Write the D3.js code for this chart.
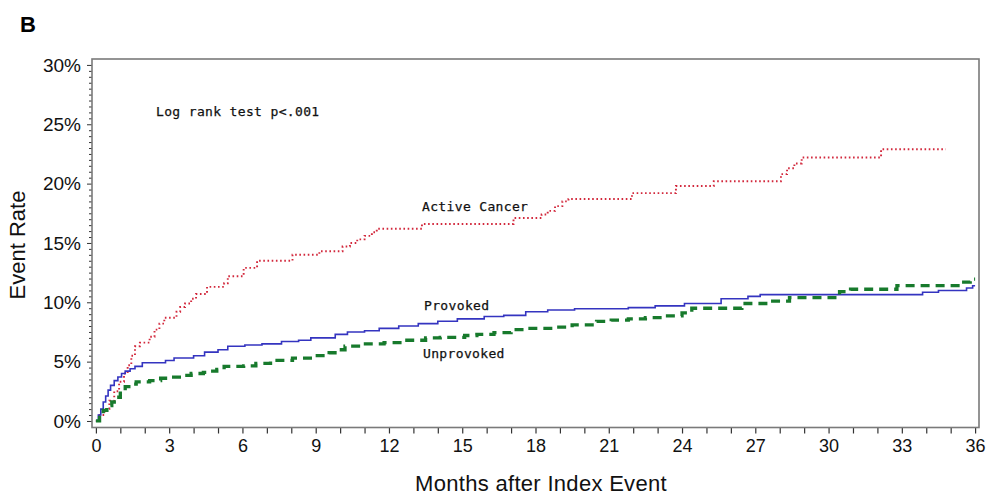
<!DOCTYPE html>
<html>
<head>
<meta charset="utf-8">
<script src="https://cdn.jsdelivr.net/npm/d3@7/dist/d3.min.js"></script>
<style>
  html, body { margin: 0; padding: 0; background: #fff; }
  svg { display: block; }
</style>
</head>
<body>
<svg id="chart" width="999" height="495"></svg>
<script>
// ---- Data (months after index event, cumulative event rate in %) ----
const cancerTimes = [0, 0.15, 0.35, 0.55, 0.75, 0.95, 1.15, 1.3, 1.45, 1.6, 1.8, 2.2, 2.4, 2.6, 2.8, 3.3, 3.45, 3.65, 3.9, 4.1, 4.55, 5.25, 5.4, 6.05, 6.6, 8.05, 9.15, 10.1, 10.4, 10.7, 11.0, 11.3, 11.5, 13.35, 17.1, 18.25, 18.5, 18.8, 19.1, 19.35, 21.95, 23.75, 25.3, 28.05, 28.3, 28.6, 28.9, 32.15, 34.8];
const cancerRates = [0, 0.5, 1.0, 1.7, 2.5, 3.3, 4.0, 4.7, 5.5, 6.3, 6.6, 7.1, 7.7, 8.2, 8.7, 9.2, 9.6, 9.9, 10.3, 10.7, 11.3, 11.6, 12.2, 12.9, 13.5, 14.0, 14.3, 14.7, 15.0, 15.3, 15.6, 15.9, 16.2, 16.6, 17.1, 17.4, 17.7, 18.1, 18.5, 18.7, 19.2, 19.8, 20.2, 20.8, 21.3, 21.7, 22.2, 22.9, 22.9];

const provokedTimes = [0, 0.1, 0.2, 0.3, 0.4, 0.5, 0.6, 0.75, 0.9, 1.05, 1.2, 1.4, 1.6, 1.9, 2.85, 3.2, 4.0, 4.45, 5.0, 5.4, 6.1, 6.8, 7.6, 8.3, 8.8, 9.8, 10.3, 11.0, 11.6, 12.4, 13.2, 14.0, 14.8, 15.9, 16.7, 17.6, 18.5, 19.6, 21.8, 22.9, 24.1, 25.6, 26.7, 27.2, 33.85, 34.5, 35.65, 35.9, 36.0];
const provokedRates = [0, 0.5, 1.0, 1.6, 2.1, 2.6, 3.0, 3.4, 3.7, 4.0, 4.2, 4.4, 4.6, 4.9, 5.1, 5.3, 5.5, 5.8, 6.0, 6.3, 6.4, 6.5, 6.7, 6.8, 7.0, 7.3, 7.5, 7.6, 7.8, 8.0, 8.2, 8.4, 8.6, 8.8, 8.9, 9.2, 9.35, 9.45, 9.55, 9.7, 9.9, 10.3, 10.5, 10.65, 10.85, 11.0, 11.2, 11.4, 11.4];

const unprovokedTimes = [0, 0.15, 0.3, 0.45, 0.65, 0.85, 1.0, 1.2, 1.45, 1.65, 2.2, 2.65, 3.1, 3.5, 3.9, 4.4, 4.65, 4.95, 5.25, 6.05, 6.55, 7.15, 8.05, 8.9, 9.55, 9.9, 10.2, 10.9, 11.8, 12.6, 13.5, 14.1, 15.1, 15.6, 16.3, 17.0, 17.7, 18.8, 19.5, 20.5, 21.1, 21.8, 22.5, 23.3, 24.0, 24.4, 26.45, 27.5, 28.4, 30.45, 30.9, 32.8, 35.3, 35.8, 36.0];
const unprovokedRates = [0, 0.5, 0.9, 1.3, 1.6, 2.0, 2.5, 2.9, 3.1, 3.3, 3.4, 3.6, 3.7, 3.85, 4.0, 4.1, 4.2, 4.35, 4.6, 4.65, 4.85, 5.1, 5.3, 5.5, 5.75, 6.0, 6.3, 6.5, 6.6, 6.8, 7.0, 7.05, 7.2, 7.3, 7.45, 7.7, 7.8, 7.9, 8.1, 8.4, 8.5, 8.6, 8.7, 8.85, 9.1, 9.5, 9.9, 10.1, 10.4, 10.9, 11.1, 11.4, 11.7, 11.95, 11.95];

const xTickValues = d3.range(0, 37, 1);          // a tick every month
const xLabelValues = [0, 3, 6, 9, 12, 15, 18, 21, 24, 27, 30, 33, 36];
const yTickValues = d3.range(0, 30.01, 0.5);     // a tick every 0.5 %
const yLabelValues = [0, 5, 10, 15, 20, 25, 30];

const seriesNames = ["Active Cancer", "Provoked", "Unprovoked"];
const annotationText = "Log rank test p<.001";
const panelLabel = "B";
const xTitle = "Months after Index Event";
const yTitle = "Event Rate";

// ---- Layout ----
const svg = d3.select("#chart");
const frame = { left: 92, right: 979, top: 59, bottom: 427.5 };

const x = d3.scaleLinear().domain([-0.16, 36.16]).range([frame.left, frame.right]);
const y = d3.scaleLinear().domain([-0.55, 30.5]).range([frame.bottom, frame.top]);

const tickFont = "'Liberation Sans', Arial, sans-serif";
const monoFont = "'DejaVu Sans Mono', monospace";

// Panel label
svg.append("text").attr("x", 20).attr("y", 32)
  .attr("font-family", tickFont).attr("font-weight", "bold").attr("font-size", 22)
  .attr("fill", "#000").text(panelLabel);

// X axis
const xAxis = d3.axisBottom(x).tickValues(xTickValues).tickSize(6).tickSizeOuter(0)
  .tickFormat(d => xLabelValues.includes(d) ? String(d) : "");
const gx = svg.append("g").attr("transform", `translate(0,${frame.bottom})`).call(xAxis);
gx.select(".domain").remove();
gx.selectAll(".tick line").attr("stroke", "#333").attr("stroke-width", 1.2);
gx.selectAll(".tick text").attr("font-family", tickFont).attr("font-size", 18)
  .attr("fill", "#111").attr("y", 8).attr("dy", "0.9em");

// Y axis
const yAxis = d3.axisLeft(y).tickValues(yTickValues).tickSizeOuter(0)
  .tickFormat(d => yLabelValues.includes(d) ? d + "%" : "");
const gy = svg.append("g").attr("transform", `translate(${frame.left},0)`).call(yAxis);
gy.select(".domain").remove();
gy.selectAll(".tick line")
  .attr("x2", d => yLabelValues.includes(d) ? -5 : -3)
  .attr("stroke", "#333").attr("stroke-width", 1);
gy.selectAll(".tick text").attr("x", -11).attr("font-family", tickFont)
  .attr("font-size", 19).attr("fill", "#111");

// Frame
svg.append("rect")
  .attr("x", frame.left).attr("y", frame.top)
  .attr("width", frame.right - frame.left).attr("height", frame.bottom - frame.top)
  .attr("fill", "none").attr("stroke", "#7a7a7a").attr("stroke-width", 1.6);

// Axis titles
svg.append("text").attr("x", 541).attr("y", 491)
  .attr("text-anchor", "middle").attr("font-family", tickFont).attr("font-size", 22)
  .attr("letter-spacing", 0.3).attr("fill", "#111").text(xTitle);
svg.append("text").attr("transform", `translate(25,245) rotate(-90)`)
  .attr("text-anchor", "middle").attr("font-family", tickFont).attr("font-size", 22)
  .attr("fill", "#111").text(yTitle);

// Curves
const line = d3.line().x(d => x(d[0])).y(d => y(d[1])).curve(d3.curveStepAfter);
const zip = (a, b) => a.map((t, i) => [t, b[i]]);

svg.append("path").datum(zip(cancerTimes, cancerRates))
  .attr("d", line).attr("fill", "none").attr("stroke", "#d2283c")
  .attr("stroke-width", 1.9).attr("stroke-dasharray", "1.6,2.6");

svg.append("path").datum(zip(provokedTimes, provokedRates))
  .attr("d", line).attr("fill", "none").attr("stroke", "#3434c0")
  .attr("stroke-width", 1.6);

svg.append("path").datum(zip(unprovokedTimes, unprovokedRates))
  .attr("d", line).attr("fill", "none").attr("stroke", "#177a2c")
  .attr("stroke-width", 3.3).attr("stroke-dasharray", "9,6");

// Annotations
const ann = [
  { t: annotationText, x: 156, y: 116 },
  { t: seriesNames[0], x: 422, y: 211 },
  { t: seriesNames[1], x: 424, y: 310 },
  { t: seriesNames[2], x: 423, y: 358 }
];
svg.selectAll("text.ann").data(ann).enter().append("text").attr("class", "ann")
  .attr("x", d => d.x).attr("y", d => d.y)
  .attr("font-family", monoFont).attr("font-size", 13).attr("letter-spacing", 0.35)
  .attr("fill", "#111").attr("stroke", "#111").attr("stroke-width", 0.25)
  .text(d => d.t);
</script>
</body>
</html>
